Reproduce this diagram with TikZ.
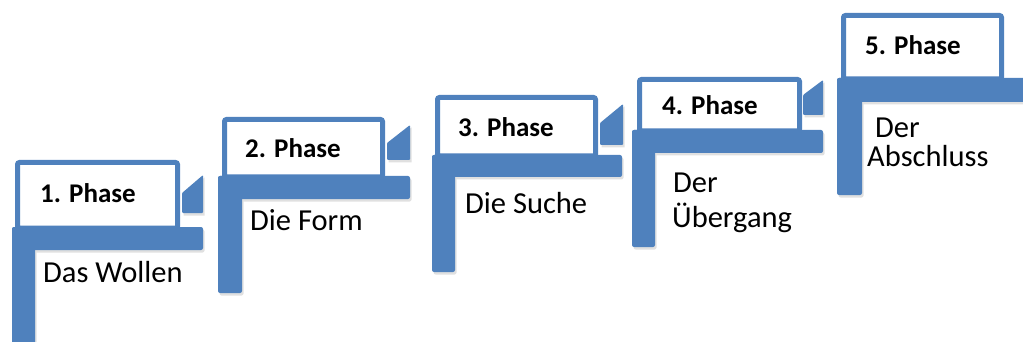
\documentclass[tikz,border=0pt]{standalone}
\usepackage{fontspec}
\setmainfont{Carlito}
\definecolor{stepblue}{RGB}{79,129,189}
\tikzset{
  barpart/.style={fill=stepblue, rounded corners=2pt},
  shadowpart/.style={fill=black!12, rounded corners=2pt},
  headbox/.style={draw=stepblue, line width=5pt, fill=white, rounded corners=2pt},
  phtitle/.style={anchor=base west, inner sep=0pt, font=\fontsize{27}{32}\selectfont\bfseries},
  phdesc/.style={anchor=base west, inner sep=0pt, font=\fontsize{30.5}{34}\selectfont},
}
\newcommand{\phstep}[9]{%
  % #1 left x of vertical, #2 right x of vertical, #3 bar top, #4 bar bottom, #5 bar right,
  % #6 vertical bottom, #7 box left, #8 box top, #9 box right
  \fill[shadowpart] (#1+1.5,#3+2.5) rectangle (#5+1.5,#4+2.5);
  \fill[shadowpart] (#1+1.5,#3+2.5) rectangle (#2+1.5,#6+2.5);
  \draw[headbox] (#7+2.5,#8+2.5) rectangle (#9-2.5,#3+1);
  \fill[barpart] (#1,#3) rectangle (#5,#4);
  \fill[barpart] (#1,#3) rectangle (#2,#6);
}
\newcommand{\phpiece}[5]{%
  % #1 left x, #2 right x, #3 top-right y, #4 diagonal-left y, #5 bottom y
  \fill[black!12] (#1+1.5,#5+2.5) -- (#1+1.5,#4+2.5) -- (#2+1.5,#3+2.5) -- (#2+1.5,#5+2.5) -- cycle;
  \fill[stepblue, rounded corners=1pt] (#1,#5) -- (#1,#4) -- (#2,#3) -- (#2,#5) -- cycle;
}
\begin{document}
\begin{tikzpicture}[x=1pt,y=-1pt]
\useasboundingbox (0,0) rectangle (1023,342);
% step 1
\phstep{12}{35}{227}{250}{203}{350}{15}{160}{180}
\phpiece{182}{203}{175}{193}{213}
% step 2
\phstep{218}{242}{176}{199}{410}{293}{222}{117}{385}
\phpiece{387}{410}{125}{143}{160}
% step 3
\phstep{432}{455}{155}{177}{622}{272}{435}{95}{598}
\phpiece{600}{623}{104}{123}{145}
% step 4
\phstep{632}{655}{130}{153}{823}{247}{637}{77}{802}
\phpiece{803}{823}{80}{95}{115}
% step 5
\phstep{837}{862}{78}{102}{1030}{195}{841}{13}{1004}
% texts
\node[phtitle] (t1) at (40,202) {1. Phase};
\node[phdesc] (d1) at (43,282) {Das Wollen};
\node[phtitle] (t2) at (245,158) {2. Phase};
\node[phdesc] (d2) at (250,230) {Die Form};
\node[phtitle] (t3) at (458,137) {3. Phase};
\node[phdesc] (d3) at (465,213) {Die Suche};
\node[phtitle] (t4) at (662,115) {4. Phase};
\node[phdesc] (d4a) at (673,193) {Der};
\node[phdesc] (d4b) at (672,227) {Übergang};
\node[phtitle] (t5) at (865,55) {5. Phase};
\node[phdesc] (d5a) at (875,138) {Der};
\node[phdesc] (d5b) at (867,167) {Abschluss};
\end{tikzpicture}
\end{document}
